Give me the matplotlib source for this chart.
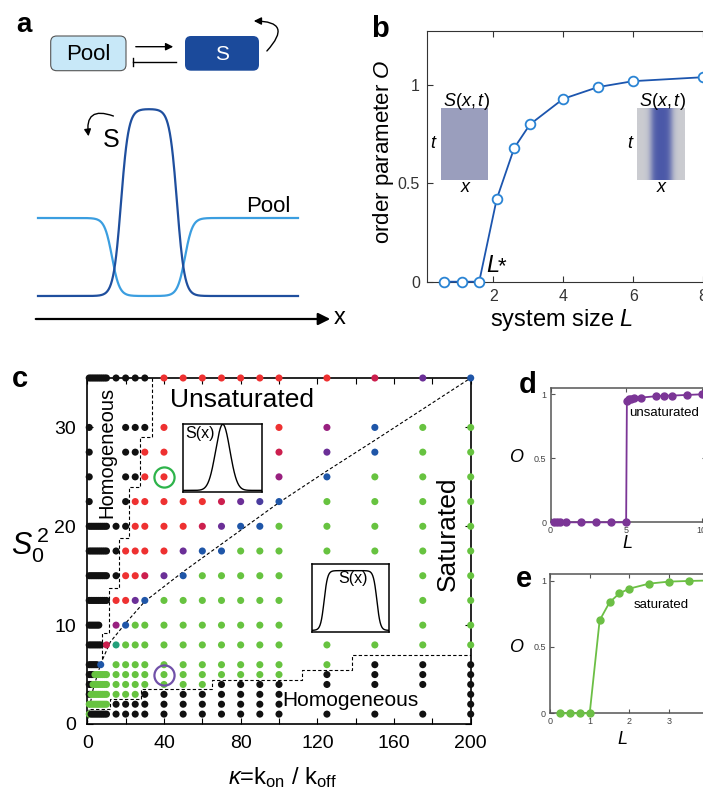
import numpy as np
import matplotlib
matplotlib.use('Agg')
import matplotlib.pyplot as plt
from matplotlib.patches import FancyBboxPatch, FancyArrowPatch
from matplotlib.colors import LinearSegmentedColormap

plt.rcParams['font.family'] = ['Liberation Sans', 'DejaVu Sans']
plt.rcParams['mathtext.fontset'] = 'custom'
plt.rcParams['mathtext.rm'] = 'Liberation Sans'
plt.rcParams['mathtext.it'] = 'Liberation Sans:italic'
plt.rcParams['xtick.direction'] = 'in'
plt.rcParams['ytick.direction'] = 'in'

W, H = 703, 796

# ---- panel b : order parameter vs system size
L_b = [0.6, 1.1, 1.6, 2.1, 2.6, 3.05, 4, 5, 6, 8]
O_b = [0, 0, 0, 0.42, 0.68, 0.80, 0.93, 0.99, 1.02, 1.04]

# ---- panel c : phase diagram
kappa_cols = [1, 2, 3, 4, 5, 6, 7, 8, 9, 10, 15, 20, 25, 30,
              40, 50, 60, 70, 80, 90, 100, 125, 150, 175, 200]
s0sq_rows = [1, 2, 3, 4, 5, 6, 8, 10, 12.5, 15, 17.5, 20, 22.5, 25, 27.5, 30, 35]
# one code per column: k black, r red, c crimson, m magenta, p purple,
# v violet, b blue, t teal, g green, . no point
row_codes = [
    'gkkkkkkkkk' + 'kkkk' + 'kkkkkkk' + 'kkkk',   # 1
    'gggggggggg' + 'kkkk' + 'kkkkkkk' + '...k',   # 2
    'kggggggggg' + 'gggk' + 'kkkkkkk' + '...k',   # 3
    'kkgggggggg' + 'gggg' + 'gggkkkk' + 'kkkk',   # 4
    'kkkggggggg' + 'gggg' + 'ggggggg' + 'kkkk',   # 5
    'kkkkk.b...' + 'gggg' + 'ggggggg' + 'gkkk',   # 6
    'kkkkkkk..c' + 'tggg' + 'ggggggg' + 'gggg',   # 8
    'kkkkkk....' + 'mbgg' + 'ggggggg' + '..gg',   # 10
    'kkkkkkkkkk' + 'rrpb' + 'ggggggg' + '..gg',   # 12.5
    'kkkkkkkkkk' + 'krrc' + 'pbggggg' + '..gg',   # 15
    'kkkkkkkkkk' + 'krrr' + 'rpbbggg' + 'gggg',   # 17.5
    'kkkkkkkkkk' + 'kkrr' + 'rrcpbbg' + 'gggg',   # 20
    'k.........' + '.krr' + 'rrrcpvb' + 'gggg',   # 22.5
    'k.........' + '.kkr' + 'r.....m' + 'bggg',   # 25
    'k.........' + '.kkr' + 'r.....c' + 'pbgg',   # 27.5
    'k.........' + '.kkk' + 'r.....r' + 'mbgg',   # 30
    'kkkkkkkkkk' + 'kkkk' + 'rrrrrrr' + 'rcpb',   # 35
]
dot_colors = {'k': '#111111', 'r': '#ee3131', 'c': '#cc1f4e', 'm': '#98207f',
              'p': '#6b2f97', 'v': '#4a3c9e', 'b': '#1f56a8', 't': '#22a07a',
              'g': '#67c340'}

upper_x = [34, 34, 27.5, 27.5, 22, 22, 16.5, 16.5, 11.5, 11.5, 7.5, 7.5]
upper_y = [35, 29, 29, 24, 24, 18.8, 18.8, 13.8, 13.8, 9.2, 9.2, 6.4]
lower_x = [1.2, 12, 12, 28, 28, 65, 65, 112, 112, 138, 138, 200]
lower_y = [1.5, 1.5, 2.5, 2.5, 3.5, 3.5, 4.5, 4.5, 5.5, 5.5, 7, 7]
curve_k = [0, 1, 3, 7, 12, 20, 30, 50, 70, 80, 100, 125, 150, 200]
curve_s = [0, 1.5, 3.5, 6.1, 8.3, 10.2, 12.4, 15.4, 18.2, 19.6, 22.4, 25.6, 28.7, 35]

# ---- panels d, e
L_d = [0.2, 0.4, 0.6, 1, 2, 3, 4, 5, 5.05, 5.2, 5.35, 5.5, 6, 7, 7.5, 8, 9, 10]
O_d = [0, 0, 0, 0, 0, 0, 0, 0, 0.95, 0.96, 0.965, 0.97, 0.975, 0.985, 0.99, 0.99, 0.995, 1.0]
L_e = [0.25, 0.5, 0.75, 1, 1.25, 1.5, 1.75, 2, 2.5, 3, 3.5, 4]
O_e = [0, 0, 0, 0, 0.70, 0.836, 0.904, 0.939, 0.977, 0.992, 0.997, 1.0]


def box(l, t, r, b):
    return [l / W, 1 - b / H, (r - l) / W, (b - t) / H]


fig = plt.figure(figsize=(W / 100, H / 100), dpi=100)

# overlay in pixel coordinates for schematic + labels (kept on top)
ov = fig.add_axes([0, 0, 1, 1])
ov.set_xlim(0, W)
ov.set_ylim(H, 0)
ov.axis('off')
ov.set_zorder(10)

# ---------------- panel a
ov.text(24, 32, 'a', fontsize=20, fontweight='bold', ha='center', va='baseline')
ov.add_patch(FancyBboxPatch((50.7, 36), 75.3, 34.7, boxstyle='round,pad=0,rounding_size=6',
                            fc='#c8e8f8', ec='#555555', lw=0.8))
ov.text(88.3, 54, 'Pool', fontsize=16, ha='center', va='center')
ov.add_patch(FancyBboxPatch((185, 36), 74, 34.7, boxstyle='round,pad=0,rounding_size=6',
                            fc='#1b4a9b', ec='none'))
ov.text(222, 54, 'S', fontsize=15, ha='center', va='center', color='white')
ov.annotate('', xy=(176, 46.7), xytext=(133, 46.7),
            arrowprops=dict(arrowstyle='-|>', color='k', lw=1, mutation_scale=11))
ov.plot([133, 176], [61.7, 61.7], color='k', lw=1)
ov.plot([133, 133], [58, 65.5], color='k', lw=1)
ov.add_patch(FancyArrowPatch((265, 53), (251, 21), connectionstyle='arc3,rad=1.2',
                             arrowstyle='-|>', mutation_scale=11, color='k', lw=1))

xs = np.linspace(38, 298, 500)
w = 7.5
s_curve = 296 - 187 * 0.5 * (np.tanh((xs - 121) / w) - np.tanh((xs - 177) / w))
p_curve = 218 + 78 * 0.5 * (np.tanh((xs - 112) / w) - np.tanh((xs - 185) / w))
ov.plot(xs, p_curve, color='#3b9ee0', lw=1.6)
ov.plot(xs, s_curve, color='#1f4f9e', lw=1.6)
ov.text(268, 206, 'Pool', fontsize=16, ha='center', va='center')
ov.text(111, 140, 'S', fontsize=18, ha='center', va='center')
ov.add_patch(FancyArrowPatch((116, 117), (89, 139), connectionstyle='arc3,rad=0.9',
                             arrowstyle='-|>', mutation_scale=10, color='k', lw=1))
ov.annotate('', xy=(333, 319), xytext=(33, 319),
            arrowprops=dict(arrowstyle='-|>', color='k', lw=1.6, mutation_scale=18))
ov.text(340, 318, 'x', fontsize=17, ha='center', va='center')

# ---------------- panel b
ov.text(380, 37, 'b', fontsize=21, fontweight='bold', ha='center', va='baseline')
ax_b = fig.add_axes(box(426.7, 31, 720, 281.7))
ax_b.plot(L_b, O_b, '-o', color='#1c55ae', lw=1.3, ms=7, mfc='white',
          mec='#2a84d4', mew=1.3, clip_on=False, zorder=3)
ax_b.set_xlim(0.1, 8.48)
ax_b.set_ylim(0, 1.275)
ax_b.set_xticks([2, 4, 6, 8])
ax_b.set_yticks([0, 0.5, 1])
ax_b.set_yticklabels(['0', '0.5', '1'])
ax_b.tick_params(top=True, right=True, length=4, labelsize=11.5, labelcolor='#333333',
                 pad=5, color='#333333')
for sp in ax_b.spines.values():
    sp.set_color('#333333')
ov.text(486, 271.7, r'$L$', fontsize=17, ha='left', va='baseline')
ov.text(498, 271.7, '*', fontsize=16, ha='left', va='baseline')
ov.text(384, 152, r'order parameter $O$', rotation=90, fontsize=16, ha='center', va='center')
ov.text(562, 320, r'system size $L$', fontsize=17, ha='center', va='center')

# insets in b
ax_i = fig.add_axes(box(440.7, 107.7, 488.3, 180))
ax_i.set_facecolor('#9a9ebd')
ax_i.set_xticks([])
ax_i.set_yticks([])
for sp in ax_i.spines.values():
    sp.set_visible(False)
ax_j = fig.add_axes(box(637.3, 107.7, 685, 180))
u = np.linspace(0, 1, 200)
prof = 0.5 * (np.tanh((u - 0.3) / 0.08) - np.tanh((u - 0.72) / 0.08))
cmap_band = LinearSegmentedColormap.from_list('band', ['#cbccd1', '#4a58a8'])
ax_j.imshow(np.tile(prof, (20, 1)), cmap=cmap_band, aspect='auto', vmin=0, vmax=1)
ax_j.set_xticks([])
ax_j.set_yticks([])
for sp in ax_j.spines.values():
    sp.set_visible(False)
for cx, tx in [(466, 434), (662, 631)]:
    ov.text(cx, 101, r'$S(x,t)$', fontsize=13, ha='center', va='center')
    ov.text(tx, 144, r'$t$', fontsize=13, ha='center', va='center')
    ov.text(cx, 187, r'$x$', fontsize=13, ha='center', va='center')

# ---------------- panel c
ov.text(20, 387, 'c', fontsize=21, fontweight='bold', ha='center', va='baseline')
ax_c = fig.add_axes(box(87.3, 378, 470.7, 724))
ax_c.set_xlim(0, 200)
ax_c.set_ylim(0, 35)
px, py, pc = [], [], []
for yv, codes in zip(s0sq_rows, row_codes):
    for kv, ch in zip(kappa_cols, codes):
        if ch != '.':
            px.append(kv)
            py.append(yv)
            pc.append(dot_colors[ch])
ax_c.scatter(px, py, s=26, c=pc, linewidths=0, clip_on=False, zorder=3)
dash = (0, (3, 2))
ax_c.plot(upper_x, upper_y, color='k', lw=0.8, ls=dash, zorder=2)
ax_c.plot(lower_x, lower_y, color='k', lw=0.8, ls=dash, zorder=2)
ax_c.plot(curve_k, curve_s, color='k', lw=0.8, ls=dash, zorder=2)
ax_c.plot([40], [25], 'o', mfc='none', mec='#2db34a', ms=14.5, mew=1.6, zorder=4)
ax_c.plot([40], [5], 'o', mfc='none', mec='#7050a8', ms=14.5, mew=1.6, zorder=4)
ax_c.set_xticks([0, 40, 80, 120, 160, 200])
ax_c.set_xticks([20, 60, 100, 140, 180], minor=True)
ax_c.set_yticks([0, 10, 20, 30])
ax_c.tick_params(which='both', top=True, right=True, length=4, labelsize=14, pad=8, width=0.8)
for sp in ax_c.spines.values():
    sp.set_linewidth(1.2)

ov.text(242.5, 400, 'Unsaturated', fontsize=19, ha='center', va='center')
ov.text(448, 534, 'Saturated', fontsize=19, rotation=90, ha='center', va='center')
ov.text(106.5, 452, 'Homogeneous', fontsize=14.5, rotation=90, ha='center', va='center')
ov.text(350, 700, 'Homogeneous', fontsize=15, ha='center', va='center')
ov.text(282, 778, r'$\kappa$=k$_{\rm on}$ / k$_{\rm off}$', fontsize=17, ha='center', va='center')
ov.text(30, 545, r'$S_0^{\,2}$', fontsize=22, ha='center', va='center')

# insets in c
uu = np.linspace(0, 1, 300)
ax_c1 = fig.add_axes(box(183.3, 424.3, 262.3, 491.7))
ax_c1.plot(uu, np.exp(-0.5 * ((uu - 0.5) / 0.09) ** 2), color='k', lw=1)
ax_c1.set_xlim(0, 1)
ax_c1.set_ylim(-0.02, 1.0)
ax_c1.text(0.02, 0.97, 'S(x)', fontsize=11.5, transform=ax_c1.transAxes, ha='left', va='top')
ax_c2 = fig.add_axes(box(311.7, 564, 389.3, 631.7))
ax_c2.plot(uu, 0.9 * 0.5 * (np.tanh((uu - 0.16) / 0.045) - np.tanh((uu - 0.84) / 0.045)),
           color='k', lw=1)
ax_c2.set_xlim(0, 1)
ax_c2.set_ylim(-0.02, 1.0)
ax_c2.text(0.53, 0.79, 'S(x)', fontsize=11.5, transform=ax_c2.transAxes, ha='center', va='center')
for a in (ax_c1, ax_c2):
    a.set_xticks([])
    a.set_yticks([])
    for sp in a.spines.values():
        sp.set_linewidth(1.1)

# ---------------- panel d
ov.text(528, 393, 'd', fontsize=21, fontweight='bold', ha='center', va='baseline')
ax_d = fig.add_axes(box(550.5, 388.3, 706, 522.3))
ax_d.plot(L_d, O_d, '-o', color='#7b3596', lw=1.3, ms=5, clip_on=False, zorder=3)
ax_d.set_xlim(0, 10.28)
ax_d.set_ylim(0, 1.047)
ax_d.set_xticks([0, 5, 10])
ax_d.set_yticks([0, 0.5, 1])
ax_d.set_yticklabels(['0', '0.5', '1'])
ov.text(664, 413, 'unsaturated', fontsize=9.5, ha='center', va='center')
ov.text(517, 458, r'$O$', fontsize=13, ha='center', va='center')
ov.text(627, 543, r'$L$', fontsize=13, ha='center', va='center')

# ---------------- panel e
ov.text(524, 587, 'e', fontsize=21, fontweight='bold', ha='center', va='baseline')
ax_e = fig.add_axes(box(550, 574.3, 712, 713.3))
ax_e.plot(L_e, O_e, '-o', color='#6cbf45', lw=1.3, ms=5, clip_on=False, zorder=3)
ax_e.set_xlim(0.03, 4.08)
ax_e.set_ylim(0, 1.047)
ax_e.set_xticks([0, 1, 2, 3, 4])
ax_e.set_yticks([0, 0.5, 1])
ax_e.set_yticklabels(['0', '0.5', '1'])
ov.text(661, 605, 'saturated', fontsize=9.5, ha='center', va='center')
ov.text(517, 648, r'$O$', fontsize=13, ha='center', va='center')
ov.text(622, 740, r'$L$', fontsize=13, ha='center', va='center')

for a in (ax_d, ax_e):
    a.tick_params(top=True, right=True, length=3, labelsize=6.5, labelcolor='#444444',
                  pad=3, color='#555555')
    for sp in a.spines.values():
        sp.set_color('#555555')
        sp.set_linewidth(1.1)

fig.savefig('out.png', dpi=100)
